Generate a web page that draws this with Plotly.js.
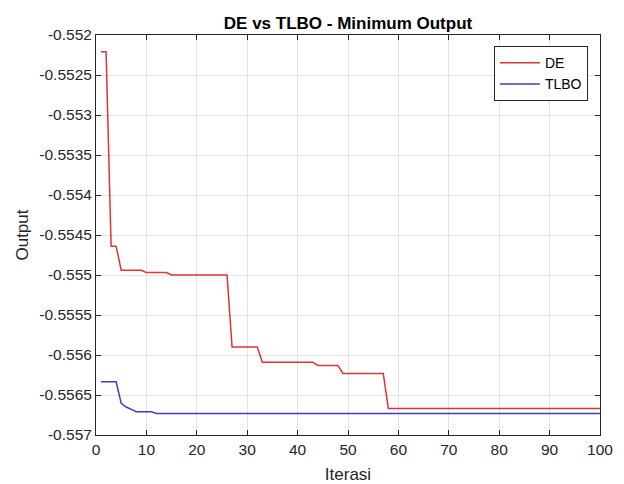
<!DOCTYPE html>
<html>
<head>
<meta charset="utf-8">
<script src="https://cdn.plot.ly/plotly-3.0.1.min.js"></script>
<style>html,body{margin:0;padding:0;background:#fff;}#chart{width:624px;height:484px;}</style>
</head>
<body>
<div id="chart"></div>
<script>
const iterations = [1,2,3,4,5,6,7,8,9,10,11,12,13,14,15,16,17,18,19,20,21,22,23,24,25,26,27,28,29,30,31,32,33,34,35,36,37,38,39,40,41,42,43,44,45,46,47,48,49,50,51,52,53,54,55,56,57,58,59,60,61,62,63,64,65,66,67,68,69,70,71,72,73,74,75,76,77,78,79,80,81,82,83,84,85,86,87,88,89,90,91,92,93,94,95,96,97,98,99,100];

const deValues = [
  -0.55221,-0.55221,-0.55464,-0.55464,-0.55494,-0.55494,-0.55494,-0.55494,-0.55494,-0.55497,
  -0.55497,-0.55497,-0.55497,-0.55497,-0.55500,-0.55500,-0.55500,-0.55500,-0.55500,-0.55500,
  -0.55500,-0.55500,-0.55500,-0.55500,-0.55500,-0.55500,-0.55590,-0.55590,-0.55590,-0.55590,
  -0.55590,-0.55590,-0.55609,-0.55609,-0.55609,-0.55609,-0.55609,-0.55609,-0.55609,-0.55609,
  -0.55609,-0.55609,-0.55609,-0.55613,-0.55613,-0.55613,-0.55613,-0.55613,-0.55623,-0.55623,
  -0.55623,-0.55623,-0.55623,-0.55623,-0.55623,-0.55623,-0.55623,-0.55667,-0.55667,-0.55667,
  -0.55667,-0.55667,-0.55667,-0.55667,-0.55667,-0.55667,-0.55667,-0.55667,-0.55667,-0.55667,
  -0.55667,-0.55667,-0.55667,-0.55667,-0.55667,-0.55667,-0.55667,-0.55667,-0.55667,-0.55667,
  -0.55667,-0.55667,-0.55667,-0.55667,-0.55667,-0.55667,-0.55667,-0.55667,-0.55667,-0.55667,
  -0.55667,-0.55667,-0.55667,-0.55667,-0.55667,-0.55667,-0.55667,-0.55667,-0.55667,-0.55667
];

const tlboValues = [
  -0.556335,-0.556335,-0.556335,-0.556335,-0.556605,-0.55665,-0.55668,-0.55671,-0.55671,-0.55671,
  -0.55671,-0.55673,-0.55673,-0.55673,-0.55673,-0.55673,-0.55673,-0.55673,-0.55673,-0.55673,
  -0.55673,-0.55673,-0.55673,-0.55673,-0.55673,-0.55673,-0.55673,-0.55673,-0.55673,-0.55673,
  -0.55673,-0.55673,-0.55673,-0.55673,-0.55673,-0.55673,-0.55673,-0.55673,-0.55673,-0.55673,
  -0.55673,-0.55673,-0.55673,-0.55673,-0.55673,-0.55673,-0.55673,-0.55673,-0.55673,-0.55673,
  -0.55673,-0.55673,-0.55673,-0.55673,-0.55673,-0.55673,-0.55673,-0.55673,-0.55673,-0.55673,
  -0.55673,-0.55673,-0.55673,-0.55673,-0.55673,-0.55673,-0.55673,-0.55673,-0.55673,-0.55673,
  -0.55673,-0.55673,-0.55673,-0.55673,-0.55673,-0.55673,-0.55673,-0.55673,-0.55673,-0.55673,
  -0.55673,-0.55673,-0.55673,-0.55673,-0.55673,-0.55673,-0.55673,-0.55673,-0.55673,-0.55673,
  -0.55673,-0.55673,-0.55673,-0.55673,-0.55673,-0.55673,-0.55673,-0.55673,-0.55673,-0.55673
];

const xTickVals = [0,10,20,30,40,50,60,70,80,90,100];
const xTickText = ["0","10","20","30","40","50","60","70","80","90","100"];
const yTickVals = [-0.552,-0.5525,-0.553,-0.5535,-0.554,-0.5545,-0.555,-0.5555,-0.556,-0.5565,-0.557];
const yTickText = ["-0.552","-0.5525","-0.553","-0.5535","-0.554","-0.5545","-0.555","-0.5555","-0.556","-0.5565","-0.557"];

const FONT = 'Liberation Sans, Arial, Helvetica, sans-serif';
const axisColor = '#262626';

const traces = [
  {x: iterations, y: deValues, name: 'DE', type: 'scatter', mode: 'lines',
   line: {color: 'rgb(222,52,52)', width: 1.5}},
  {x: iterations, y: tlboValues, name: 'TLBO', type: 'scatter', mode: 'lines',
   line: {color: 'rgb(60,60,195)', width: 1.5}}
];

const layout = {
  width: 624, height: 484,
  paper_bgcolor: '#ffffff', plot_bgcolor: '#ffffff',
  margin: {l: 96, r: 24, t: 35, b: 49, pad: 0},
  font: {family: FONT, color: axisColor, size: 15.5},
  title: {text: '<b>DE vs TLBO - Minimum Output</b>', font: {family: FONT, size: 17, color: '#000'},
          x: 0.5, xref: 'paper', y: 1 - 23/484, yref: 'container', yanchor: 'middle'},
  showlegend: true,
  legend: {x: 0.976, xanchor: 'right', y: 0.972, yanchor: 'top',
           bgcolor: '#ffffff', bordercolor: axisColor, borderwidth: 1,
           tracegroupgap: 0, itemwidth: 40,
           font: {family: FONT, size: 14, color: '#000'}},
  xaxis: {range: [0, 100], tickvals: xTickVals, ticktext: xTickText,
          showgrid: true, gridcolor: '#e3e3e3', gridwidth: 1,
          showline: true, linecolor: axisColor, linewidth: 1, mirror: 'ticks',
          ticks: 'inside', ticklen: 5, tickcolor: axisColor, zeroline: false,
          tickfont: {family: FONT, size: 15.5, color: axisColor},
          title: {text: 'Iterasi', font: {family: FONT, size: 17, color: axisColor}, standoff: 12}},
  yaxis: {range: [-0.557, -0.552], tickvals: yTickVals, ticktext: yTickText,
          showgrid: true, gridcolor: '#e3e3e3', gridwidth: 1,
          showline: true, linecolor: axisColor, linewidth: 1, mirror: 'ticks',
          ticks: 'inside', ticklen: 5, tickcolor: axisColor, zeroline: false,
          tickfont: {family: FONT, size: 15.5, color: axisColor},
          title: {text: 'Output', font: {family: FONT, size: 17, color: axisColor}, standoff: 6}}
};

Plotly.newPlot('chart', traces, layout, {displayModeBar: false, staticPlot: true});
</script>
</body>
</html>
